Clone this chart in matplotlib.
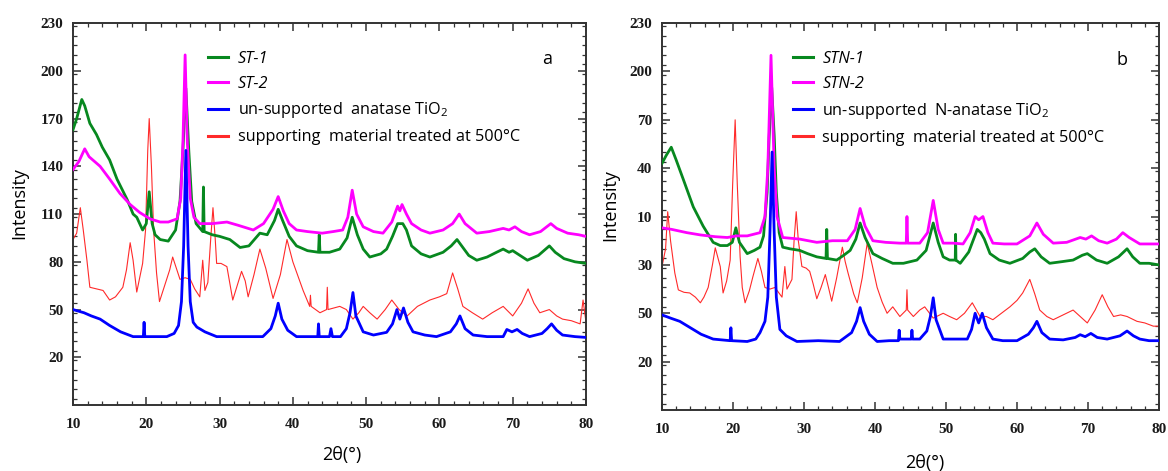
import matplotlib
matplotlib.use("Agg")
import matplotlib.pyplot as plt
from matplotlib.ticker import MultipleLocator, FixedLocator, FixedFormatter

plt.rcParams['font.family'] = ['Open Sans', 'DejaVu Sans']
plt.rcParams['mathtext.fontset'] = 'custom'
plt.rcParams['mathtext.rm'] = 'Open Sans'
plt.rcParams['mathtext.it'] = 'Open Sans:italic'

# ---- panel a: ST samples ----
st1_x = [10, 10.5, 11.2, 11.6, 12.3, 13.2, 14, 15, 16, 17.4, 18.2, 18.7, 19.5, 20.0, 20.4, 20.8, 21.2, 21.9,
         23, 24, 24.6, 25.0, 25.4, 25.8, 26.2, 26.8, 27.7, 27.8, 27.9, 29, 30, 31.4, 32.8, 34, 35.5, 36.5,
         37.5, 38, 38.6, 39.5, 40.5, 42, 43.5, 43.6, 43.7, 45, 46.4, 47.4, 48.1, 48.8, 49.6, 50.5, 52, 52.8,
         53.6, 54.3, 55, 55.5, 56.2, 57.5, 58.7, 60.5, 61.6, 62.4, 63.2, 64, 65.1, 66.5, 67.8, 68.7, 69.5,
         70, 71, 72, 73.5, 75, 75.8, 77, 78.5, 80]
st1_y = [163, 170, 182, 178, 167, 160, 152, 144, 132, 119, 110, 108, 100, 104, 124, 104, 97, 94,
         93, 100, 118, 150, 189, 150, 118, 104, 99, 127, 99, 97, 96, 94, 89, 90, 98, 97,
         106, 113, 106, 96, 90, 87, 86, 97, 86, 86, 88, 95, 108, 97, 88, 83, 85, 88,
         96, 104, 104, 100, 90, 85, 83, 86, 90, 94, 89, 84, 81, 83, 86, 88, 86,
         87, 84, 81, 84, 90, 86, 82, 80, 79]

st2_x = [10, 10.8, 11.6, 12.2, 13.7, 15, 16.4, 17.8, 19.1, 20.5, 21.9, 23, 24.2, 24.7, 25.0, 25.3, 25.6,
         26.0, 26.5, 27.3, 29, 31, 32.5, 34.6, 36, 37.3, 38, 38.7, 39.5, 40.5, 42, 44, 45.5, 46.8, 47.5,
         48.1, 48.7, 49.6, 51, 52.3, 53.5, 54.3, 54.6, 54.9, 55.5, 56.2, 57.5, 58.7, 60.5, 61.8, 62.7,
         63.5, 65.1, 66.8, 68.7, 69.5, 70.3, 71.2, 72.3, 73.8, 75.2, 76, 77.5, 79, 80]
st2_y = [138, 143, 151, 146, 140, 132, 123, 116, 111, 107, 105, 105, 107, 120, 155, 210, 155,
         120, 108, 104, 104, 105, 103, 100, 104, 113, 121, 112, 104, 100, 99, 98, 99, 100, 108,
         125, 110, 102, 99, 98, 105, 115, 112, 116, 110, 104, 100, 98, 100, 104, 110,
         104, 98, 99, 101, 100, 102, 99, 97, 99, 104, 101, 98, 97, 96]

anat_x = [10, 11.5, 12.5, 13.7, 15, 16.5, 18.2, 19.6, 19.7, 19.8, 21, 22.8, 23.8, 24.4, 24.8, 25.1,
          25.4, 25.7, 26.0, 26.4, 26.9, 28, 29.6, 32, 34, 35.9, 37, 37.6, 38, 38.5, 39.3, 40.5, 42,
          43.4, 43.5, 43.6, 45, 45.2, 45.4, 46.5, 47.3, 47.8, 48.2, 48.6, 49.6, 51, 52.8, 53.6, 54.2,
          54.6, 55.1, 55.7, 56.4, 58, 59.6, 61.5, 62.3, 62.8, 63.5, 64.6, 66.5, 68.7, 69.2, 69.9, 70.6,
          71.3, 72.3, 74, 74.7, 75.3, 76, 76.8, 78.5, 80]
anat_y = [50, 48, 46, 44, 40, 36, 33, 33, 42, 33, 33, 33, 35, 40, 55, 90,
          150, 90, 55, 42, 39, 36, 33, 33, 33, 33, 38, 46, 54, 44, 37, 33, 33,
          33, 41, 33, 33, 38, 33, 33, 38, 48, 60.7, 46, 36, 34, 35.7, 41, 50,
          44, 51, 42, 36, 34, 33, 36, 41, 46, 38, 34, 33, 33, 37.5, 36, 37.5,
          35, 33, 35, 38, 41, 37, 34, 33, 32.5]

supp_x = [10, 10.5, 11, 11.4, 11.9, 12.3, 13.2, 14.1, 15, 15.8, 16.8, 17.3, 17.8, 18.2, 18.7, 19.5,
          19.9, 20.2, 20.4, 20.7, 21.0, 21.4, 21.8, 22.5, 23.2, 23.6, 24.1, 24.6, 25.3, 26, 26.6,
          27.3, 27.7, 28.0, 28.4, 28.8, 29.1, 29.4, 29.6, 30.2, 31, 31.8, 32.4, 33, 33.5, 33.9, 34.7,
          35.5, 36.3, 37.3, 38.3, 39.2, 40, 41.4, 42.3, 42.4, 42.5, 43.7, 44.6, 44.7, 44.8, 46.4, 47.3,
          48.2, 49, 49.6, 50.5, 51.5, 52.6, 53.5, 54.5, 55.6, 57, 58.7, 60, 61, 61.8, 62.5, 63.2, 64.5,
          65.9, 67.2, 68.7, 70, 71.2, 72.1, 72.9, 73.7, 75, 76, 76.8, 78, 79.2, 79.6, 80]
supp_y = [94, 98, 114, 100, 81, 64, 63, 62, 56, 58, 64, 75, 92, 81, 61, 79,
          100, 150, 170, 140, 100, 73, 55, 65, 75, 83, 76, 69, 70, 69, 63,
          58, 81, 62, 67, 95, 114, 95, 79, 79, 77, 56, 65, 74, 68, 58, 72,
          88, 76, 57, 72, 94, 80, 62, 52, 59, 52, 48, 50, 64, 50, 52, 50,
          44, 48, 52, 48, 44, 50, 56, 50, 46, 52, 56, 58, 60, 73, 63, 52, 48,
          44, 48, 52, 46, 54, 63, 54, 48, 50, 46, 44, 43, 41, 56, 42]

# ---- panel b: STN samples ----
stn1_x = [10, 10.6, 11.3, 12, 13, 14.4, 15.8, 17.2, 18.2, 19.2, 19.9, 20.4, 20.9, 22, 23, 23.8, 24.3,
          24.8, 25.1, 25.45, 25.8, 26.1, 26.5, 27, 28, 29.4, 30.5, 31.8, 33.1, 33.2, 33.3, 34.6, 35.6,
          36.5, 37.3, 37.9, 38.6, 39.7, 41, 42.5, 44, 45.9, 47.2, 48.2, 48.9, 49.6, 50.5, 51.3, 51.35,
          51.4, 52, 53.2, 54.4, 54.9, 55.4, 56.2, 57.5, 59, 60.8, 61.8, 62.5, 63.4, 64.6, 66.3, 67.9,
          69.2, 69.9, 71.2, 72.7, 74.3, 75.5, 76.3, 77.3, 78.6, 80]
stn1_y = [143, 148, 153, 145, 133, 116, 104, 94, 92, 92, 94, 103, 94, 87, 89, 91, 98,
          125, 160, 190, 160, 125, 100, 91, 90, 89, 87, 85, 84, 102, 84, 83, 86,
          89, 96, 106, 97, 87, 84, 81, 81, 83, 89, 106, 94, 85, 83, 83, 99,
          83, 81, 88, 102, 100, 96, 87, 83, 81, 84, 88, 90, 85, 81, 82, 83,
          86, 87, 83, 81, 85, 90, 85, 81, 81, 80]

stn2_x = [10, 11.4, 13.5, 15.4, 17.5, 19.2, 20.5, 22, 23.8, 24.5, 24.9, 25.35, 25.8, 26.2, 27, 29.4,
          31.8, 34, 36.1, 37.2, 37.9, 38.6, 39.7, 41.5, 43.5, 44.4, 44.5, 44.6, 46.3, 47.4, 48.2, 48.9,
          49.6, 51, 52.4, 53.4, 54.1, 54.6, 55.2, 55.9, 56.6, 58.2, 60, 61.8, 62.8, 63.7, 65.1, 67,
          68.9, 69.7, 70.5, 71.5, 72.7, 74, 74.9, 75.8, 77.3, 78.8, 80]
stn2_y = [103, 102, 100, 98.6, 97.5, 97, 98, 98, 100, 110, 140, 210, 140, 110, 97, 96,
          94, 95, 95, 102, 115, 104, 95, 94, 93.5, 93.5, 110, 93.5, 93.5, 100, 120, 102,
          93.5, 93.5, 93, 100, 110, 108, 110, 100, 93.5, 93, 93, 98, 106, 99, 93.5, 94,
          97, 96, 98, 95, 93.5, 96, 100, 97, 93, 93, 93]

nanat_x = [10, 11.2, 12.5, 14, 15.5, 17.2, 19.6, 19.7, 19.8, 22, 23.2, 23.8, 24.5, 24.9, 25.2, 25.5,
           25.8, 26.1, 26.6, 27.5, 29, 32, 35, 36.7, 37.4, 37.9, 38.4, 39.2, 40.3, 42, 43.3, 43.4, 43.5,
           45.1, 45.2, 45.3, 46.3, 47.3, 47.8, 48.2, 48.6, 49.6, 51.3, 53, 53.6, 54.1, 54.6, 55.1, 55.7,
           56.6, 58, 60, 61.6, 62.3, 62.8, 63.5, 64.6, 66.5, 68.2, 68.9, 69.6, 70.4, 71.3, 72.7, 74.5,
           75.5, 76.4, 77.3, 78.6, 80]
nanat_y = [49, 47, 45, 41, 37, 34, 33, 41, 33, 32.5, 34, 38, 45, 60, 100, 150,
           100, 60, 40, 36, 32.5, 33, 32.5, 38, 45, 53.5, 45, 37, 32.5, 33, 33, 39.5, 34,
           34, 39.5, 34, 34, 39, 48, 59.6, 46, 34, 34, 34, 40, 50, 44, 50, 41,
           34, 33, 33, 37, 41, 45, 38, 34, 33.5, 35, 36.7, 35.5, 37.5, 35, 34, 36,
           39, 36, 34, 33, 33]

supp2_x = [10, 10.5, 10.8, 11.2, 11.8, 12.3, 13.1, 13.9, 14.7, 15.4, 15.9, 16.5, 17.1, 17.5, 18.2,
           18.6, 19.1, 19.6, 19.95, 20.3, 20.6, 21.0, 21.3, 21.7, 22.3, 22.8, 23.5, 24.0, 24.5, 25.2,
           25.9, 26.4, 26.9, 27.3, 27.6, 28.3, 28.6, 28.9, 29.2, 29.7, 30.3, 30.8, 31.3, 31.8, 32.4,
           33, 33.5, 33.9, 34.6, 35.4, 35.8, 36.2, 37, 37.5, 38.2, 38.9, 39.6, 40.3, 41.0, 41.7, 42.5,
           43.5, 44.4, 44.5, 44.6, 45.4, 46.3, 47, 48.2, 49.6, 50.5, 51.5, 52.6, 53.7, 54.8, 55.7,
           56.6, 57.8, 59, 60, 60.8, 61.8, 62.5, 63.2, 64.2, 65.1, 66.5, 67.9, 68.9, 69.9, 71, 72,
           72.8, 73.6, 74.6, 75.5, 76.9, 78, 79.2, 80]
supp2_y = [79, 90, 113, 95, 75, 64.5, 63, 62.6, 60, 56.5, 60, 66, 80, 90.6, 79,
           62.6, 70, 83, 130, 170, 130, 85, 66, 56.5, 64, 72.7, 84, 76, 66, 65,
           66, 63, 60, 79, 65, 71, 95, 113, 95, 79, 78, 76, 68, 59, 66,
           74, 65, 57.5, 72, 91, 82, 75, 62, 56.5, 72, 93.5, 80, 66, 57, 50, 54,
           48, 52, 64.6, 52, 48, 52, 54, 47, 50, 48, 46, 50, 56.5, 48, 48,
           46, 50, 54, 58, 62.6, 71, 62, 52, 48, 46, 49, 52, 48, 44, 52, 61.5,
           54, 48, 49, 48, 45, 44, 42, 42]

y_ticks = [20, 50, 80, 110, 140, 170, 200, 230]
y_labels_a = ['20', '50', '80', '110', '140', '170', '200', '230']
y_labels_b = ['20', '50', '30', '10', '40', '70', '200', '230']

GREEN = '#07881f'
MAGENTA = '#ff00ff'
BLUE = '#0000ff'
RED = '#ff2a2a'

fig = plt.figure(figsize=(11.68, 4.71), dpi=100)
ax_a = fig.add_axes([0.0625, 0.140, 0.4392, 0.811])
ax_b = fig.add_axes([0.5668, 0.1295, 0.4255, 0.8215])


def draw_panel(ax, data, labels, ylabels, letter, xlab_pos, xlab_y):
    (gx, gy), (mx, my), (bx, by), (rx, ry) = data
    h_r, = ax.plot(rx, ry, color=RED, lw=0.8, zorder=2)
    h_g, = ax.plot(gx, gy, color=GREEN, lw=2.0, zorder=3)
    h_m, = ax.plot(mx, my, color=MAGENTA, lw=2.0, zorder=4)
    h_b, = ax.plot(bx, by, color=BLUE, lw=2.0, zorder=5)

    ax.set_xlim(10, 80)
    ax.set_ylim(-10, 230)
    ax.xaxis.set_major_locator(MultipleLocator(10))
    ax.xaxis.set_minor_locator(MultipleLocator(2))
    ax.yaxis.set_major_locator(FixedLocator(y_ticks))
    ax.yaxis.set_major_formatter(FixedFormatter(ylabels))
    ax.yaxis.set_minor_locator(MultipleLocator(6))
    ax.tick_params(which='both', direction='in', top=True, right=True, color='#333333')
    ax.tick_params(which='major', length=6, width=1.1)
    ax.tick_params(which='minor', length=3, width=0.9)
    ax.tick_params(axis='x', pad=9)
    ax.tick_params(axis='y', pad=7)
    for lab in ax.get_xticklabels() + ax.get_yticklabels():
        lab.set_fontfamily('Liberation Serif')
        lab.set_fontweight('bold')
        lab.set_fontsize(11)
        lab.set_color('#1a1a1a')
    for sp in ax.spines.values():
        sp.set_linewidth(1.4)
        sp.set_color('#333333')

    ax.set_xlabel('2θ(°)', fontsize=13, va='center')
    ax.xaxis.set_label_coords(xlab_pos, xlab_y)
    ax.set_ylabel('Intensity', fontsize=13)
    ax.yaxis.set_label_coords(-0.087, 0.53)

    leg = ax.legend([h_g, h_m, h_b, h_r], labels, loc='upper left',
                    bbox_to_anchor=(0.264, 0.928), frameon=False, fontsize=11.7,
                    handlelength=1.2, handletextpad=0.6, labelspacing=0.55,
                    borderpad=0, borderaxespad=0)
    for line in leg.get_lines():
        line.set_linewidth(2.2)
    for t in leg.get_texts()[:2]:
        t.set_fontstyle('italic')

    ax.text(0.925, 0.905, letter, transform=ax.transAxes, fontsize=13,
            ha='center', va='center')


draw_panel(ax_a,
           [(st1_x, st1_y), (st2_x, st2_y), (anat_x, anat_y), (supp_x, supp_y)],
           ['ST-1', 'ST-2', 'un-supported  anatase TiO$_2$',
            'supporting  material treated at 500°C'],
           y_labels_a, 'a', 0.524, -0.132)
draw_panel(ax_b,
           [(stn1_x, stn1_y), (stn2_x, stn2_y), (nanat_x, nanat_y), (supp2_x, supp2_y)],
           ['STN-1', 'STN-2', 'un-supported  N-anatase TiO$_2$',
            'supporting  material treated at 500°C'],
           y_labels_b, 'b', 0.529, -0.138)

fig.savefig('out.png', dpi=100)
